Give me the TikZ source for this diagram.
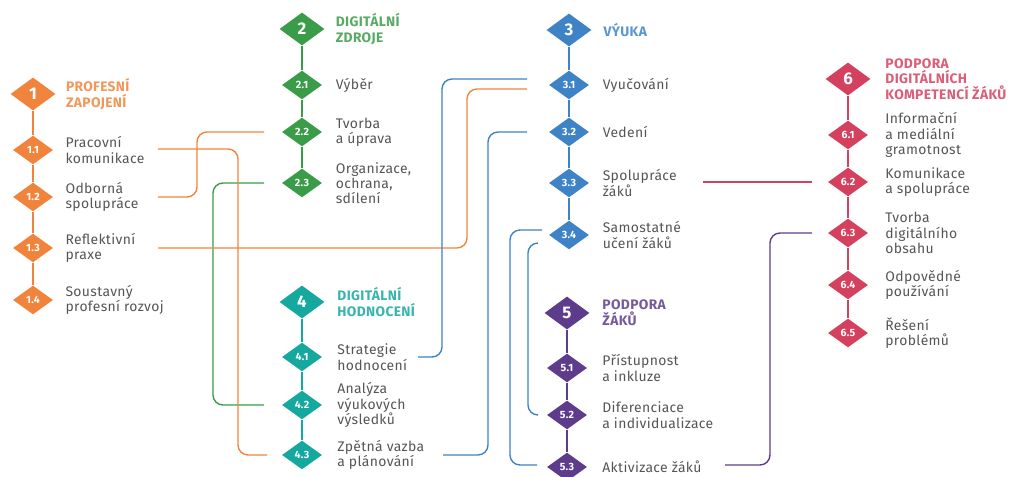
\documentclass[tikz,border=0pt]{standalone}
\usepackage{fontspec}
\setmainfont[LetterSpace=2.5]{Fira Sans}
\usetikzlibrary{shapes.geometric,positioning}
\definecolor{profcolor}{RGB}{240,132,60}
\definecolor{zdrojcolor}{RGB}{58,155,72}
\definecolor{vyukacolor}{RGB}{62,131,197}
\definecolor{hodncolor}{RGB}{20,168,158}
\definecolor{podpcolor}{RGB}{93,60,140}
\definecolor{kompcolor}{RGB}{211,65,95}
\definecolor{txtgray}{RGB}{85,85,85}

\begin{document}
\begin{tikzpicture}[
    x=0.025cm, y=-0.025cm,
    node distance=0.33cm,
    bigdia/.style={diamond, fill=#1, text=white, font=\bfseries\fontsize{12}{12}\selectfont, inner sep=0pt, minimum width=1.125cm, minimum height=0.825cm},
    smalldia/.style={diamond, fill=#1, text=white, font=\bfseries\fontsize{7.5}{7.5}\selectfont, inner sep=0pt, minimum width=1.0cm, minimum height=0.72cm},
    title/.style={font=\bfseries\fontsize{9.8}{11.2}\selectfont, text=#1!85!white, align=left, inner sep=0pt},
    item/.style={font=\fontsize{9.9}{10.9}\selectfont, text=txtgray, align=left, inner sep=0pt},
    colline/.style={draw=#1, line width=1.3pt},
    link/.style={draw=#1, line width=1pt, rounded corners=0.25cm}
]
\useasboundingbox (0,0) rectangle (1020,477);

% 1 Profesni zapojeni
\node[bigdia=profcolor] (d1) at (33,94) {1};
\node[smalldia=profcolor] (d11) at (33,150) {1.1};
\node[smalldia=profcolor] (d12) at (33,197) {1.2};
\node[smalldia=profcolor] (d13) at (33,248) {1.3};
\node[smalldia=profcolor] (d14) at (33,300) {1.4};
\node[title=profcolor, right=0.25cm of d1] (t1) {PROFESNÍ\\ZAPOJENÍ};
\node[item, right=0.3cm of d11] (t11) {Pracovní\\komunikace};
\node[item, right=0.3cm of d12] (t12) {Odborná\\spolupráce};
\node[item, right=0.3cm of d13] (t13) {Reflektivní\\praxe};
\node[item, right=0.3cm of d14] (t14) {Soustavný\\profesní rozvoj};

% 2 Digitalni zdroje
\node[bigdia=zdrojcolor] (d2) at (302,29) {2};
\node[smalldia=zdrojcolor] (d21) at (302,85) {2.1};
\node[smalldia=zdrojcolor] (d22) at (302,132) {2.2};
\node[smalldia=zdrojcolor] (d23) at (302,183) {2.3};
\node[title=zdrojcolor, right=0.27cm of d2] (t2) {DIGITÁLNÍ\\ZDROJE};
\node[item, right=of d21] (t21) {Výběr};
\node[item, right=of d22] (t22) {Tvorba\\a úprava};
\node[item, right=of d23] (t23) {Organizace,\\ochrana,\\sdílení};

% 3 Vyuka
\node[bigdia=vyukacolor] (d3) at (569,30) {3};
\node[smalldia=vyukacolor] (d31) at (569,85) {3.1};
\node[smalldia=vyukacolor] (d32) at (569,132) {3.2};
\node[smalldia=vyukacolor] (d33) at (569,183) {3.3};
\node[smalldia=vyukacolor] (d34) at (569,235) {3.4};
\node[title=vyukacolor, right=0.29cm of d3] (t3) {VÝUKA};
\node[item, right=of d31] (t31) {Vyučování};
\node[item, right=of d32] (t32) {Vedení};
\node[item, right=of d33] (t33) {Spolupráce\\žáků};
\node[item, right=of d34] (t34) {Samostatné\\učení žáků};

% 4 Digitalni hodnoceni
\node[bigdia=hodncolor] (d4) at (302,302) {4};
\node[smalldia=hodncolor] (d41) at (302,357) {4.1};
\node[smalldia=hodncolor] (d42) at (302,405) {4.2};
\node[smalldia=hodncolor] (d43) at (302,455) {4.3};
\node[title=hodncolor, right=0.31cm of d4] (t4) {DIGITÁLNÍ\\HODNOCENÍ};
\node[item, right=0.37cm of d41] (t41) {Strategie\\hodnocení};
\node[item, right=0.37cm of d42] (t42) {Analýza\\výukových\\výsledků};
\node[item, right=0.37cm of d43] (t43) {Zpětná vazba\\a plánování};

% 5 Podpora zaku
\node[bigdia=podpcolor] (d5) at (567,313) {5};
\node[smalldia=podpcolor] (d51) at (567,368) {5.1};
\node[smalldia=podpcolor] (d52) at (567,415) {5.2};
\node[smalldia=podpcolor] (d53) at (567,467) {5.3};
\node[title=podpcolor, right=0.31cm of d5] (t5) {PODPORA\\ŽÁKŮ};
\node[item, right=0.37cm of d51] (t51) {Přístupnost\\a inkluze};
\node[item, right=0.37cm of d52] (t52) {Diferenciace\\a individualizace};
\node[item, right=0.37cm of d53] (t53) {Aktivizace žáků};

% 6 Podpora digitalnich kompetenci zaku
\node[bigdia=kompcolor] (d6) at (848,79) {6};
\node[smalldia=kompcolor] (d61) at (848,135) {6.1};
\node[smalldia=kompcolor] (d62) at (848,182) {6.2};
\node[smalldia=kompcolor] (d63) at (848,233) {6.3};
\node[smalldia=kompcolor] (d64) at (848,285) {6.4};
\node[smalldia=kompcolor] (d65) at (848,333) {6.5};
\node[title=kompcolor, right=0.36cm of d6] (t6) {PODPORA\\DIGITÁLNÍCH\\KOMPETENCÍ ŽÁKŮ};
\node[item, right=0.42cm of d61] (t61) {Informační\\a mediální\\gramotnost};
\node[item, right=0.42cm of d62] (t62) {Komunikace\\a spolupráce};
\node[item, right=0.42cm of d63] (t63) {Tvorba\\digitálního\\obsahu};
\node[item, right=0.42cm of d64] (t64) {Odpovědné\\používání};
\node[item, right=0.42cm of d65] (t65) {Řešení\\problémů};

% Column lines
\draw[colline=profcolor] (d1) -- (d11) -- (d12) -- (d13) -- (d14);
\draw[colline=zdrojcolor] (d2) -- (d21) -- (d22) -- (d23);
\draw[colline=vyukacolor] (d3) -- (d31) -- (d32) -- (d33) -- (d34);
\draw[colline=hodncolor] (d4) -- (d41) -- (d42) -- (d43);
\draw[colline=podpcolor] (d5) -- (d51) -- (d52) -- (d53);
\draw[colline=kompcolor] (d6) -- (d61) -- (d62) -- (d63) -- (d64) -- (d65);

% Link ends and lanes
\coordinate (o11) at (158,149);
\coordinate (o12) at (158,197);
\coordinate (o13) at (158,248);
\coordinate (e22) at (264,132);
\coordinate (e23) at (264,183);
\coordinate (e42) at (264,405);
\coordinate (e43) at (267,455);
\coordinate (e31a) at (527,79);
\coordinate (e31b) at (527,89);
\coordinate (e32) at (527,132);
\coordinate (e34a) at (542,230);
\coordinate (e34b) at (538,243);
\coordinate (o41) at (418,357);
\coordinate (o43) at (443,455);
\coordinate (e52) at (538,415);
\coordinate (e53) at (537,465);
\coordinate (o33) at (703,182);
\coordinate (e62) at (812,182);
\coordinate (o53) at (725,465);
\coordinate (e63) at (812,233);

% Links between competences
\draw[link=zdrojcolor] (e23) -- (213,183) -- (213,405) -- (e42);
\draw[link=profcolor] (o11) -- (238,149) -- (238,455) -- (e43);
\draw[link=profcolor] (o12) -- (197,197) -- (197,132) -- (e22);
\draw[link=profcolor] (o13) -- (467,248) -- (467,89) -- (e31b);
\draw[link=vyukacolor] (e31a) -- (442,79) -- (442,357) -- (o41);
\draw[link=vyukacolor] (e32) -- (488,132) -- (488,455) -- (o43);
\draw[link=vyukacolor] (e34a) -- (510,230) -- (510,465) -- (e53);
\draw[link=vyukacolor] (e34b) -- (528,243) -- (528,415) -- (e52);
\draw[link=kompcolor] (o33) -- (e62);
\draw[link=podpcolor] (o53) -- (770,465) -- (770,233) -- (e63);

\end{tikzpicture}
\end{document}
